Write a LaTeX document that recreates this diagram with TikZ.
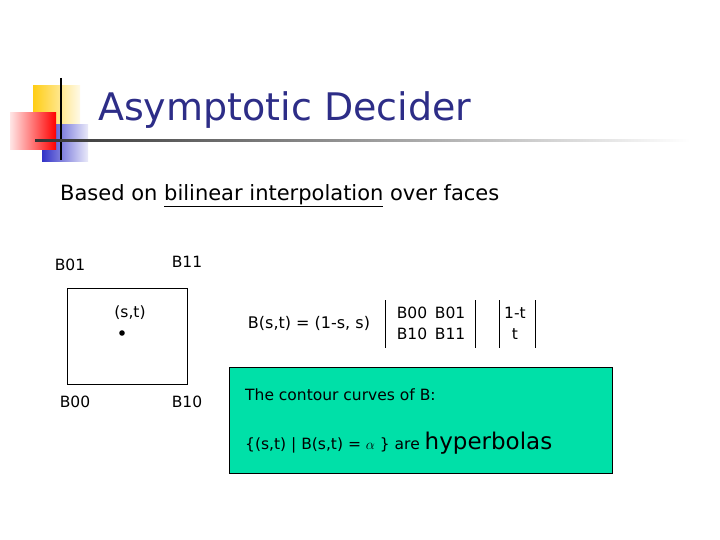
\documentclass[tikz,border=0pt]{standalone}
\usepackage{fontspec}
\setmainfont{DejaVu Sans}
\usetikzlibrary{shadings}
\definecolor{titleblue}{RGB}{45,45,135}
\definecolor{sqyellow}{RGB}{255,205,20}
\definecolor{sqblue}{RGB}{50,50,200}
\definecolor{boxgreen}{RGB}{0,224,168}
\tikzset{lbl/.style={font=\fontsize{15.5}{18}\selectfont,inner sep=0pt},
  bar/.style={line width=0.8pt}}
\begin{document}
\begin{tikzpicture}[x=1pt,y=-1pt]
\useasboundingbox (0,0) rectangle (720,540);
% decoration
\fill[left color=sqyellow,right color=sqyellow!10] (33,86) rectangle (80,125);
\fill[left color=sqblue,right color=sqblue!10] (42,125) rectangle (88,162);
\fill[left color=red!10,right color=red] (10,113) rectangle (56,150);
\draw[line width=1.5pt] (61,78) -- (61,160);
\shade[left color=black!80,right color=white] (35,139.5) rectangle (690,141.5);
\node[anchor=west,text=titleblue,font=\fontsize{38}{42}\selectfont,inner sep=0pt] (title) at (98,110) {Asymptotic Decider};
\node[anchor=west,font=\fontsize{21}{24}\selectfont,inner sep=0pt] (based) at (60,196) {Based on \underline{bilinear interpolation} over faces};
% square
\draw[line width=0.6pt] (67,288) rectangle (187,384);
\node[lbl] (b01) at (70,265) {B01};
\node[lbl] (b11) at (187,262) {B11};
\node[lbl] (b00) at (75,402) {B00};
\node[lbl] (b10) at (187,402) {B10};
\node[lbl] (st) at (130,313) {(s,t)};
\fill (122,333) circle (2.8pt);
% formula
\node[lbl,font=\fontsize{16}{18}\selectfont] (bst) at (309,323) {B(s,t) = (1-s, s)};
\draw[bar] (385,300) -- (385,348);
\draw[bar] (475,300) -- (475,348);
\node[lbl,align=left] (mat) at (431,323.5) {B00\enspace B01\\[3pt]B10\enspace B11};
\draw[bar] (499,300) -- (499,348);
\draw[bar] (535,300) -- (535,348);
\node[lbl,align=center] (vec) at (515,323.5) {1-t\\[3pt]t};
% green box
\draw[fill=boxgreen,line width=0.6pt] (229,367) rectangle (612,473);
\node[lbl,anchor=west] (c1) at (245,395) {The contour curves of B:};
\node[lbl,anchor=west] (c2) at (245,443) {\{(s,t) | B(s,t) = {\Large$\alpha$} \} are {\fontsize{23}{26}\selectfont hyperbolas}};
\end{tikzpicture}
\end{document}
